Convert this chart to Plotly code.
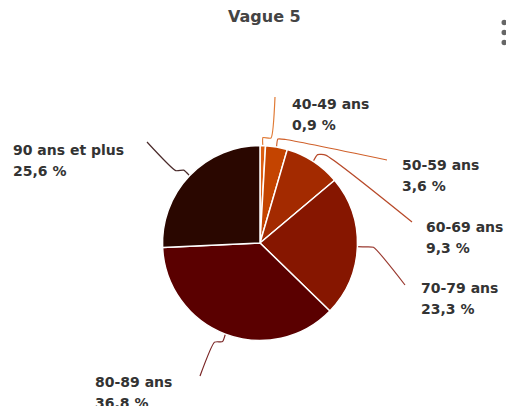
import math
import plotly.graph_objects as go

# ---- data ----
categories = ["40-49 ans", "50-59 ans", "60-69 ans", "70-79 ans", "80-89 ans", "90 ans et plus"]
values = [0.9, 3.6, 9.3, 23.3, 36.8, 25.6]
colors = ["#dc5f12", "#c44400", "#a32a00", "#861600", "#5a0000", "#2a0700"]
line_colors = ["#e07a35", "#d0602a", "#b84a2a", "#9a3a30", "#7a2525", "#4a2a2a"]
title = "Vague 5"

# ---- layout (screen pixels) ----
W, H = 506, 406
CX, CY, R = 260, 243, 97.5
FONT = "DejaVu Sans"
LINE_GAP = 21

# label text start x and first-line centre y
label_pos = [(290, 103.5), (400, 164.5), (423.5, 226.5),
             (419, 288), (92.5, 381.5), (10.5, 149.5)]
line_end = [(275, 97), (387, 160), (412, 222), (405, 285), (200, 376), (147, 142)]

def fmt(v):
    return f"{v:.1f}".replace(".", ",") + " %"

fig = go.Figure()

fig.add_trace(go.Pie(
    labels=categories, values=values, sort=False, direction="clockwise", rotation=0,
    marker=dict(colors=colors, line=dict(color="white", width=1.5)),
    textinfo="none", hoverinfo="label+percent", showlegend=False,
    domain=dict(x=[(CX - R) / W, (CX + R) / W],
                y=[1 - (CY + R) / H, 1 - (CY - R) / H]),
))

total = sum(values)
cum = 0.0
for i, v in enumerate(values):
    mid = (cum + v / 2) / total * 2 * math.pi
    cum += v
    sx, sy = math.sin(mid), -math.cos(mid)
    p0 = (CX + R * sx, CY + R * sy)
    p1 = (CX + (R + 8) * sx, CY + (R + 8) * sy)
    ex, ey = line_end[i]
    side = 1 if ex > CX else -1
    p2 = (p1[0] + side * 8, p1[1] + 0.5)
    fig.add_trace(go.Scatter(
        x=[p0[0], p1[0], p2[0], ex], y=[p0[1], p1[1], p2[1], ey],
        mode="lines", line=dict(color=line_colors[i], width=1.2, shape="spline", smoothing=0.5),
        hoverinfo="skip", showlegend=False, xaxis="x", yaxis="y",
    ))
    lx, ly = label_pos[i]
    for j, txt in enumerate([categories[i], fmt(v)]):
        fig.add_annotation(
            x=lx, y=ly + j * LINE_GAP, xref="x", yref="y", xanchor="left", yanchor="middle",
            text=txt, showarrow=False,
            font=dict(family=FONT, size=14, color="#333333", weight="bold"),
        )

fig.add_annotation(
    x=264, y=16.5, xref="x", yref="y", xanchor="center", yanchor="middle",
    text=title, showarrow=False,
    font=dict(family=FONT, size=16, color="#444444", weight="bold"),
)

# menu icon dots
for yy in (22.5, 32.5, 42.5):
    fig.add_shape(type="circle", xref="x", yref="y",
                  x0=501.5, x1=507, y0=yy - 2.7, y1=yy + 2.7,
                  fillcolor="#666666", line=dict(width=0))

fig.update_layout(
    width=W, height=H, margin=dict(l=0, r=0, t=0, b=0),
    paper_bgcolor="white", plot_bgcolor="rgba(0,0,0,0)",
    xaxis=dict(range=[0, W], visible=False, domain=[0, 1], fixedrange=True),
    yaxis=dict(range=[H, 0], visible=False, domain=[0, 1], fixedrange=True),
)

fig.write_html(
    "out.html",
    config={"displayModeBar": False},
    post_script="document.body.style.margin='0';document.body.style.overflow='hidden';",
)
